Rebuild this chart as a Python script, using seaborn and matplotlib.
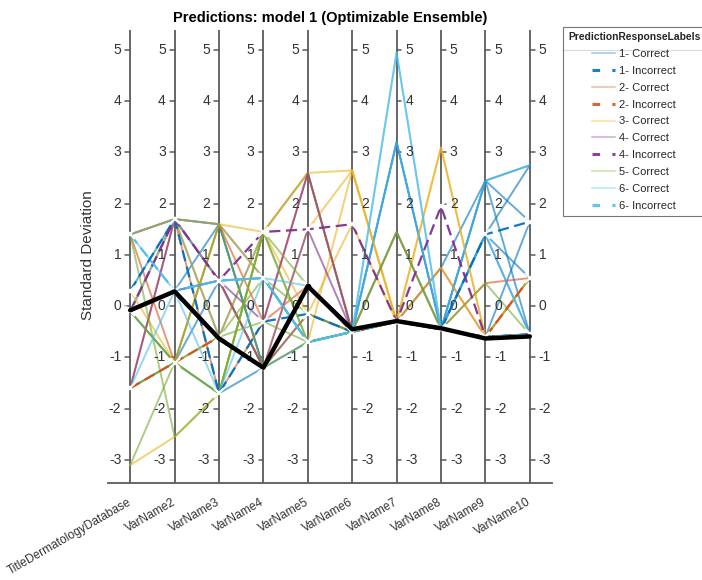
import numpy as np
import pandas as pd
import matplotlib
matplotlib.use("Agg")
import matplotlib.pyplot as plt
from matplotlib.lines import Line2D
import seaborn as sns

sns.set_style("white")
plt.rcParams['font.family'] = ['Liberation Sans', 'DejaVu Sans']

# ejes del grafico de coordenadas paralelas
variables = ["TitleDermatologyDatabase", "VarName2", "VarName3", "VarName4", "VarName5",
             "VarName6", "VarName7", "VarName8", "VarName9", "VarName10"]
tick_values = [-3, -2, -1, 0, 1, 2, 3, 4, 5]

# colores por clase (orden por defecto de MATLAB)
class_colors = {"1": "#0072BD", "2": "#D95319", "3": "#EDB120",
                "4": "#7E2F8E", "5": "#77AC30", "6": "#4DBEEE"}

legend_labels = ["1- Correct", "1- Incorrect", "2- Correct", "2- Incorrect", "3- Correct",
                 "4- Correct", "4- Incorrect", "5- Correct", "6- Correct", "6- Incorrect"]

# observaciones (desviacion estandar por variable)
obs_1_correct = [
    [1.4, 1.7, 1.6, -1.2, -0.7, -0.5, 3.2, -0.45, 2.45, -0.55],
    [-0.1, 0.3, 1.6, -1.2, 0.4, -0.5, -0.3, -0.45, 1.4, 2.75],
    [-1.6, -1.1, 0.5, 0.55, -0.7, -0.5, -0.3, -0.45, 2.45, 1.65],
    [0.3, 1.7, -0.6, 1.45, 2.6, -0.5, -0.3, -0.45, 1.4, 0.55],
    [-0.1, 0.3, 0.5, -1.2, -0.15, -0.5, -0.3, 0.75, 2.45, 2.75],
    [1.4, 1.7, 1.6, 0.55, -0.7, -0.5, -0.3, -0.45, 1.4, -0.55],
    [-0.1, -1.1, -1.7, -1.2, 0.4, -0.5, 3.2, -0.45, -0.6, 1.65],
]
obs_1_incorrect = [
    [0.3, 1.7, -1.7, -0.3, -0.15, -0.5, -0.3, -0.45, 1.4, 1.65],
]
obs_2_correct = [
    [-0.1, 1.7, -1.7, -0.3, 0.4, -0.5, -0.3, 0.75, -0.6, 0.55],
    [-1.6, 1.7, 0.5, -1.2, -0.15, -0.5, -0.3, -0.45, -0.6, -0.55],
    [1.4, -1.1, 1.6, -0.3, 2.6, -0.5, -0.3, -0.45, 0.45, 0.55],
]
obs_2_incorrect = [
    [-1.6, -1.1, -0.6, -1.2, 0.4, -0.5, -0.3, -0.45, -0.6, 0.55],
]
obs_3_correct = [
    [-3.1, -2.55, -1.7, 1.45, 2.6, 2.65, -0.3, 3.1, -0.6, -0.55],
    [1.4, 1.7, 1.6, 1.45, 2.6, -0.5, -0.3, -0.45, -0.6, -0.55],
    [-0.1, 1.7, 0.5, -1.2, 1.5, 2.65, -0.3, 0.75, -0.6, -0.55],
    [0.3, -1.1, 1.6, 0.55, -0.7, 2.65, -0.3, 3.1, -0.6, 0.55],
    [-0.1, 1.7, -0.6, 1.45, -0.15, 1.6, -0.3, -0.45, -0.6, -0.55],
]
obs_4_correct = [
    [-0.1, 0.3, 0.5, -0.3, 2.6, -0.5, -0.3, -0.45, -0.6, -0.55],
    [-1.6, 1.7, 0.5, -1.2, 1.5, -0.5, 1.45, -0.45, -0.6, -0.55],
]
obs_4_incorrect = [
    [-0.1, 1.7, 0.5, 1.45, 1.5, 1.6, -0.3, 1.95, -0.6, -0.55],
]
obs_5_correct = [
    [-0.1, -1.1, -1.7, 1.45, -0.7, -0.5, 1.45, -0.45, -0.6, -0.55],
    [-1.6, -1.1, -0.6, 0.55, -0.15, -0.5, -0.3, -0.45, -0.6, -0.55],
    [1.4, -2.55, -1.7, 1.45, 0.4, -0.5, -0.3, -0.45, -0.6, -0.55],
    [-3.1, -1.1, -0.6, -0.3, -0.7, -0.5, -0.3, -0.45, 0.45, -0.55],
    [-0.1, -1.1, 1.6, -1.2, -0.7, -0.5, -0.3, -0.45, -0.6, 0.55],
    [-1.6, -1.1, -1.7, 1.45, -0.7, -0.5, 1.45, -0.45, -0.6, -0.55],
]
obs_6_correct = [
    [1.4, 0.3, 0.5, 0.55, -0.7, -0.5, 4.95, -0.45, 1.4, -0.55],
    [-1.6, 0.3, -1.7, 0.55, 0.4, -0.5, 3.2, -0.45, 2.45, 2.75],
    [-0.1, 1.7, 0.5, 0.55, -0.7, -0.5, 4.95, -0.45, -0.6, -0.55],
]
obs_6_incorrect = [
    [1.4, 0.3, 0.5, 0.55, -0.7, -0.5, -0.3, -0.45, -0.6, -0.55],
]
selected_obs = [-0.08, 0.29, -0.63, -1.2, 0.39, -0.45, -0.29, -0.43, -0.63, -0.59]

grupos = [
    ("1- Correct", obs_1_correct), ("2- Correct", obs_2_correct), ("3- Correct", obs_3_correct),
    ("4- Correct", obs_4_correct), ("5- Correct", obs_5_correct), ("6- Correct", obs_6_correct),
    ("1- Incorrect", obs_1_incorrect), ("2- Incorrect", obs_2_incorrect),
    ("4- Incorrect", obs_4_incorrect), ("6- Incorrect", obs_6_incorrect),
]

registros = []
for etiqueta, filas in grupos:
    for k, valores in enumerate(filas):
        for j, v in enumerate(valores):
            registros.append({"obs": f"{etiqueta}-{k}", "pos": j + 1, "value": v, "label": etiqueta})
df = pd.DataFrame(registros)
df_sel = pd.DataFrame({"obs": "sel", "pos": np.arange(1, len(variables) + 1), "value": selected_obs})

fig = plt.figure(figsize=(7.02, 5.8), dpi=100)
ax = fig.add_axes([108 / 702, 1 - 483 / 580, 444 / 702, 453 / 580])

eje_color = "#5a5a5a"
texto_color = "#333333"

# ejes verticales
for i in range(1, len(variables) + 1):
    ax.axvline(i, color=eje_color, lw=1.3, zorder=1)

for etiqueta, filas in grupos:
    sub = df[df["label"] == etiqueta]
    c = class_colors[etiqueta[0]]
    if "Incorrect" in etiqueta:
        sns.lineplot(data=sub, x="pos", y="value", units="obs", estimator=None, sort=False,
                     color=c, alpha=0.95, lw=1.6, linestyle=(0, (5, 2.5)), marker="x",
                     markersize=7, markeredgewidth=1.6, legend=False, ax=ax, zorder=4)
    else:
        sns.lineplot(data=sub, x="pos", y="value", units="obs", estimator=None, sort=False,
                     color=c, alpha=0.6, lw=1.4, legend=False, ax=ax, zorder=3)

sns.lineplot(data=df_sel, x="pos", y="value", units="obs", estimator=None, sort=False,
             color="black", lw=3.2, legend=False, ax=ax, zorder=6)
ax.plot(5, selected_obs[4], "o", color="black", ms=3, zorder=7)

# marcas y etiquetas de cada eje
tick_len = 0.11
for i in range(1, len(variables) + 1):
    izquierda = i <= 5
    for t in tick_values:
        if izquierda:
            ax.plot([i - tick_len, i], [t, t], color=eje_color, lw=1.1, zorder=2)
            ax.text(i - 0.2, t, str(t), ha="right", va="center", fontsize=10, color=texto_color)
        else:
            ax.plot([i, i + tick_len], [t, t], color=eje_color, lw=1.1, zorder=2)
            ax.text(i + 0.2, t, str(t), ha="left", va="center", fontsize=10, color=texto_color)

ax.set_xlim(0.5, 10.5)
ax.set_ylim(-3.45, 5.39)
ax.set_yticks([])
ax.set_xticks(range(1, len(variables) + 1))
ax.set_xticklabels(variables, rotation=30, ha="right", va="center", rotation_mode="anchor",
                   fontsize=8.6, color=texto_color)
ax.tick_params(axis="x", length=0, pad=13)
for lado in ["top", "left", "right"]:
    ax.spines[lado].set_visible(False)
ax.spines["bottom"].set_color(eje_color)
ax.spines["bottom"].set_linewidth(1.3)
ax.set_xlabel("")
ax.set_ylabel("")
fig.text(88 / 702, 1 - 255 / 580, "Standard Deviation", rotation=90, ha="center", va="center",
         fontsize=11, color=texto_color)
fig.text(330 / 702, 1 - 18 / 580, "Predictions: model 1 (Optimizable Ensemble)", ha="center",
         va="center", fontsize=10.5, fontweight="bold", color="black")

# leyenda
handles = []
for etiqueta in legend_labels:
    c = class_colors[etiqueta[0]]
    if "Incorrect" in etiqueta:
        handles.append(Line2D([0], [0], color=c, lw=2.2, alpha=0.9, linestyle=(0, (2.5, 4))))
    else:
        handles.append(Line2D([0], [0], color=c, lw=1.5, alpha=0.3))
leg = fig.legend(handles, legend_labels, title="PredictionResponseLabels", loc="upper left",
                 bbox_to_anchor=(563 / 702, 1 - 27 / 580), fontsize=8, title_fontsize=7.4,
                 frameon=True, fancybox=False, edgecolor="#555555", handlelength=2.0,
                 handletextpad=0.4, labelspacing=0.62, borderpad=0.45, borderaxespad=0)
leg.get_title().set_fontweight("bold")
leg.get_frame().set_linewidth(0.8)
fig.add_artist(Line2D([563 / 702, 1.0], [1 - 50 / 580, 1 - 50 / 580], color="#555555", lw=0.8))

fig.savefig("out.png", dpi=100)
